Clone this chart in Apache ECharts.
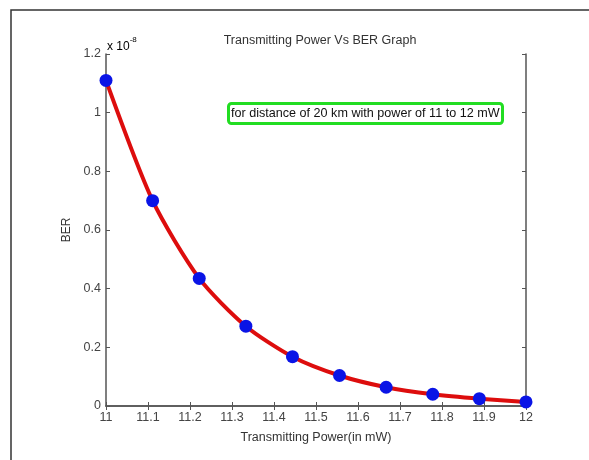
<!DOCTYPE html>
<html>
<head>
<meta charset="utf-8">
<script src="https://cdn.jsdelivr.net/npm/echarts@6/dist/echarts.min.js"></script>
<style>
  html, body { margin: 0; padding: 0; background: #fff; }
  #chart { width: 589px; height: 460px; }
</style>
</head>
<body>
<div id="chart"></div>
<script>
// transmitting power (mW) vs BER
var powers = [11, 11.111, 11.222, 11.333, 11.444, 11.556, 11.667, 11.778, 11.889, 12];
var berValues = [1.11e-8, 0.70e-8, 0.435e-8, 0.272e-8, 0.168e-8, 0.104e-8, 0.064e-8, 0.04e-8, 0.025e-8, 0.014e-8];
var titleText = "Transmitting Power Vs BER Graph";
var noteText = "for distance of 20 km with power of 11 to 12 mW";

var myChart = echarts.init(document.getElementById("chart"));

var fontFam = "Liberation Sans, Arial, sans-serif";
var axisColor = "#555";

var points = [];
for (var i = 0; i < powers.length; i++) {
  points.push([powers[i], berValues[i]]);
}

var option = {
  backgroundColor: "#fff",
  animation: false,
  title: [
    {
      text: titleText,
      left: 315,
      top: 29,
      textAlign: "center",
      textStyle: { fontSize: 12.5, fontWeight: "normal", color: "#333", fontFamily: fontFam },
    },
    {
      text: noteText,
      left: 228,
      top: 103,
      padding: [4, 3, 4, 3],
      borderColor: "#22dd22",
      borderWidth: 3,
      borderRadius: 3,
      backgroundColor: "#fff",
      textStyle: { fontSize: 12.6, fontWeight: "normal", color: "#111", fontFamily: fontFam },
    },
  ],
  grid: { left: 106, top: 54, width: 420, height: 352 },
  xAxis: [
    {
      type: "value",
      min: 11,
      max: 12,
      interval: 0.1,
      name: "Transmitting Power(in mW)",
      nameLocation: "middle",
      nameGap: 25,
      nameTextStyle: { fontSize: 12.5, color: "#333", fontFamily: fontFam },
      axisLine: { lineStyle: { color: axisColor, width: 1.5 } },
      axisTick: { inside: true, length: 4, lineStyle: { color: axisColor } },
      axisLabel: {
        margin: 5,
        fontSize: 12.5,
        color: "#444",
        fontFamily: fontFam,
        formatter: function (v) { return parseFloat(v.toFixed(1)).toString(); },
      },
      splitLine: { show: false },
    },
    {
      type: "value",
      position: "top",
      min: 11,
      max: 12,
      interval: 0.1,
      axisLine: { show: true, lineStyle: { color: axisColor, width: 1.5 } },
      axisTick: { show: true, inside: true, length: 4, lineStyle: { color: axisColor } },
      axisLabel: { show: false },
      splitLine: { show: false },
    },
  ],
  yAxis: [
    {
      type: "value",
      min: 0,
      max: 1.2e-8,
      interval: 0.2e-8,
      name: "BER",
      nameLocation: "middle",
      nameGap: 33,
      nameTextStyle: { fontSize: 12, color: "#333", fontFamily: fontFam },
      axisLine: { show: true, lineStyle: { color: axisColor, width: 1.5 } },
      axisTick: { show: true, inside: true, length: 4, lineStyle: { color: axisColor } },
      axisLabel: {
        margin: 5,
        fontSize: 12.5,
        color: "#444",
        fontFamily: fontFam,
        formatter: function (v) { return parseFloat((v * 1e8).toFixed(2)).toString(); },
      },
      splitLine: { show: false },
    },
    {
      type: "value",
      position: "right",
      min: 0,
      max: 1.2e-8,
      interval: 0.2e-8,
      axisLine: { show: true, lineStyle: { color: axisColor, width: 1.5 } },
      axisTick: { show: true, inside: true, length: 4, lineStyle: { color: axisColor } },
      axisLabel: { show: false },
      splitLine: { show: false },
    },
  ],
  graphic: [
    {
      // outer figure frame
      type: "rect",
      shape: { x: 11, y: 10, width: 600, height: 470 },
      style: { fill: null, stroke: "#333", lineWidth: 1.5 },
      silent: true,
      z: -1,
    },
    {
      type: "text",
      left: 107,
      top: 36,
      style: {
        text: "{b|x 10}{s|-8}",
        rich: {
          b: { fontSize: 12, color: "#333", fontFamily: fontFam, verticalAlign: "bottom" },
          s: { fontSize: 8, color: "#333", fontFamily: fontFam, padding: [0, 0, 9, 0] },
        },
      },
    },
  ],
  series: [
    {
      name: "BER",
      type: "line",
      data: points,
      smooth: 0.25,
      symbol: "circle",
      symbolSize: 13,
      itemStyle: { color: "#0a14e6" },
      lineStyle: { color: "#dd0d0d", width: 4 },
      clip: false,
      z: 3,
    },
  ],
};

option && myChart.setOption(option);
</script>
</body>
</html>
